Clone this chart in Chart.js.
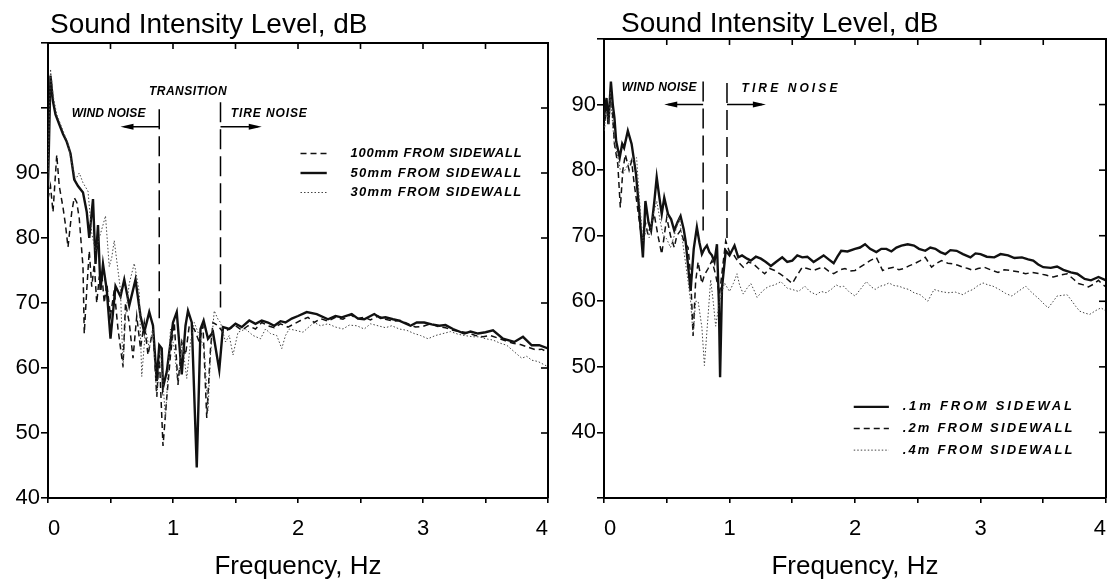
<!DOCTYPE html>
<html>
<head>
<meta charset="utf-8">
<script src="https://cdn.jsdelivr.net/npm/chart.js@4.4.0/dist/chart.umd.min.js"></script>
<style>
  html, body { margin: 0; padding: 0; background: #fff; overflow: hidden; }
  .panel { position: absolute; top: 0; height: 584px; }
  #left { left: 0; width: 556px; }
  #right { left: 556px; width: 551px; }
</style>
</head>
<body>
<div class="panel" id="left"><canvas id="chartLeft"></canvas></div>
<div class="panel" id="right"><canvas id="chartRight"></canvas></div>
<script>
// ---- data: [frequency Hz, level dB] ----
var left100mm = [[0,86],[0.02,88],[0.04,84],[0.07,92.8],[0.09,88],[0.12,84.7],[0.14,82],[0.16,78.6],[0.19,84],[0.21,86.2],[0.23,85.5],[0.25,83],[0.28,75.6],[0.29,65.3],[0.31,72],[0.33,78],[0.35,72.5],[0.37,76],[0.39,70],[0.41,74],[0.43,74.6],[0.45,70],[0.47,73],[0.50,68],[0.53,72],[0.56,66],[0.60,60.2],[0.62,70],[0.65,67],[0.68,61.5],[0.71,68],[0.74,63],[0.77,67],[0.80,62],[0.84,66],[0.87,55.6],[0.89,62],[0.92,48],[0.95,55.4],[0.98,62],[1.01,67],[1.04,57.4],[1.07,64],[1.10,62],[1.13,66.5],[1.17,66],[1.21,64],[1.24,66.5],[1.27,52.3],[1.30,63],[1.32,67],[1.36,66.5],[1.40,65.5],[1.45,66],[1.50,66.5],[1.55,65.8],[1.60,66.5],[1.66,66],[1.71,67],[1.76,66.5],[1.81,66.2],[1.86,66.8],[1.92,66.3],[1.97,66.8],[2.02,67.3],[2.08,67.8],[2.13,67],[2.18,67.6],[2.24,67.2],[2.30,67.8],[2.36,67.5],[2.42,68.2],[2.47,67.6],[2.53,67.8],[2.58,67.4],[2.64,68],[2.70,67.5],[2.76,67.2],[2.82,67.3],[2.88,66.8],[2.94,66.3],[3.00,66.4],[3.06,66.8],[3.12,66.4],[3.18,66.2],[3.24,65.8],[3.30,65.6],[3.36,65.4],[3.42,65],[3.48,64.8],[3.54,65],[3.60,64.6],[3.66,64.2],[3.72,63.8],[3.78,63.6],[3.84,63.2],[3.90,62.8],[3.95,62.9],[4.0,62.4]];
var left50mm = [[0,88],[0.02,105],[0.04,101],[0.06,99],[0.09,97.5],[0.12,96],[0.15,94.8],[0.18,93],[0.21,89],[0.24,88],[0.28,87],[0.31,84],[0.33,80],[0.36,86],[0.38,76],[0.40,82],[0.42,72],[0.44,76],[0.47,72],[0.50,64.5],[0.54,72.6],[0.58,71],[0.61,73.6],[0.65,69.6],[0.70,73.6],[0.74,68],[0.77,65.5],[0.81,68.6],[0.84,66.5],[0.87,58],[0.89,63.5],[0.91,63],[0.92,57],[0.95,59.4],[1.00,67],[1.03,68.6],[1.07,59],[1.10,66.5],[1.12,68.8],[1.15,67],[1.19,44.7],[1.22,66],[1.245,67.3],[1.28,64.5],[1.32,65.5],[1.37,59.7],[1.40,66.3],[1.45,66],[1.50,66.8],[1.55,66.3],[1.61,67.3],[1.66,66.8],[1.71,67.3],[1.76,67],[1.81,66.5],[1.86,67.2],[1.90,67],[1.95,67.6],[2.0,68],[2.07,68.6],[2.15,68.3],[2.24,67.5],[2.30,68],[2.35,67.8],[2.43,68.3],[2.48,67.6],[2.53,67.5],[2.61,68.3],[2.66,67.7],[2.70,67.8],[2.76,67.5],[2.81,67.3],[2.90,66.5],[2.95,67],[3.01,67],[3.07,66.7],[3.13,66.5],[3.18,66.6],[3.24,66],[3.33,65.3],[3.38,65.6],[3.44,65.3],[3.50,65.5],[3.56,65.8],[3.64,64.5],[3.73,64],[3.80,64.8],[3.87,63.5],[3.93,63.5],[4.0,63]];
var left30mm = [[0,90],[0.02,106],[0.04,102],[0.07,99],[0.10,97.5],[0.13,96],[0.16,94.5],[0.19,91.5],[0.22,89],[0.25,90],[0.28,88.5],[0.32,87.2],[0.35,80.7],[0.38,78],[0.41,80],[0.44,82],[0.46,83.4],[0.49,75.6],[0.51,77],[0.53,79.6],[0.56,75],[0.58,72],[0.60,60],[0.62,68],[0.65,73],[0.69,76.1],[0.71,74],[0.73,71.6],[0.75,58.7],[0.78,66],[0.81,63],[0.84,66],[0.87,55.4],[0.90,63],[0.94,52.3],[0.98,66],[1.01,63],[1.04,57.4],[1.07,64.5],[1.11,58.4],[1.14,64],[1.17,67],[1.21,65],[1.25,63],[1.28,53.4],[1.30,62],[1.33,68.8],[1.36,67.5],[1.38,67],[1.42,64],[1.45,65],[1.48,62],[1.52,65.5],[1.58,66],[1.64,65],[1.70,64.5],[1.74,66],[1.78,65.3],[1.83,65],[1.87,63],[1.90,65],[1.93,66],[1.98,65.8],[2.04,65.5],[2.08,66.2],[2.13,67],[2.18,66.5],[2.24,66.8],[2.30,66.3],[2.36,66],[2.41,66.6],[2.47,66.5],[2.53,66],[2.58,66.8],[2.64,66.5],[2.70,66.2],[2.75,66.5],[2.81,66],[2.87,65.8],[2.93,65.3],[2.98,65],[3.04,64.5],[3.10,65],[3.16,65.3],[3.22,65.6],[3.28,65.2],[3.33,65],[3.40,64.8],[3.45,64.8],[3.50,64.5],[3.56,64.3],[3.62,63.8],[3.67,63.5],[3.73,62.5],[3.79,61.5],[3.83,61.8],[3.87,61.2],[3.92,61],[3.96,60.6],[4.0,60.2]];

var right01m = [[0,88],[0.02,91],[0.035,87],[0.055,93.5],[0.07,90],[0.083,88],[0.097,84.4],[0.125,81.9],[0.145,84],[0.16,83.4],[0.19,86],[0.22,84],[0.255,79.4],[0.28,74],[0.31,66.7],[0.33,75.3],[0.355,72],[0.375,70.8],[0.40,75],[0.42,78.9],[0.44,76],[0.46,73.3],[0.48,75.8],[0.51,73.3],[0.535,72.5],[0.56,70.8],[0.585,72],[0.61,73],[0.635,71],[0.65,69.2],[0.69,61.6],[0.715,68],[0.74,71.3],[0.76,69],[0.78,67.2],[0.80,68],[0.82,68.5],[0.84,67.5],[0.86,67],[0.88,66],[0.90,68.7],[0.915,60],[0.925,48.4],[0.94,62],[0.97,67.7],[1.0,67],[1.04,68.5],[1.07,66.7],[1.1,67],[1.14,66.5],[1.17,66.2],[1.21,66.8],[1.25,66.5],[1.29,66],[1.33,65.4],[1.37,66],[1.42,66.7],[1.46,66],[1.5,66.2],[1.54,67],[1.58,66.7],[1.62,66.8],[1.67,66],[1.71,66.5],[1.75,67],[1.79,66.4],[1.83,65.8],[1.86,66.8],[1.89,67.7],[1.94,67.6],[2.0,68],[2.04,68.2],[2.08,68.7],[2.12,68],[2.17,67.5],[2.21,68],[2.25,68],[2.29,67.6],[2.33,68.2],[2.37,68.5],[2.42,68.7],[2.47,68.5],[2.51,68],[2.56,67.7],[2.60,68.2],[2.64,68],[2.68,67.5],[2.72,67.2],[2.76,67.8],[2.81,67.7],[2.86,67.2],[2.92,66.7],[2.96,67.3],[3.0,67.2],[3.05,66.8],[3.11,66.7],[3.16,67.2],[3.22,67],[3.27,66.6],[3.33,66.7],[3.38,66.4],[3.42,66.2],[3.46,65.6],[3.5,65.2],[3.56,65.1],[3.61,65.3],[3.66,64.8],[3.72,64.4],[3.77,64.2],[3.83,63.4],[3.88,63.2],[3.94,63.7],[4.0,63.2]];
var right02m = [[0,86],[0.02,90],[0.04,88],[0.055,93],[0.07,88],[0.083,84],[0.11,80.9],[0.13,74.3],[0.15,80],[0.17,82.4],[0.2,80],[0.22,81.4],[0.24,78],[0.26,75.3],[0.29,71],[0.31,69.2],[0.33,72],[0.35,70.2],[0.38,72],[0.40,73.3],[0.43,70],[0.46,67.2],[0.5,72.8],[0.53,70],[0.56,68.2],[0.58,70],[0.61,70.8],[0.64,69],[0.67,68.2],[0.69,64],[0.71,54.7],[0.73,63],[0.75,66],[0.78,62.7],[0.80,64],[0.83,65],[0.86,66.2],[0.89,64],[0.92,61],[0.95,66],[0.97,69.2],[1.0,67.5],[1.03,67.2],[1.07,66],[1.11,65.2],[1.15,66],[1.19,65.7],[1.23,65],[1.28,64.2],[1.32,65],[1.36,64.7],[1.40,64.2],[1.44,63.7],[1.5,62.7],[1.54,64],[1.58,65.2],[1.62,65],[1.67,64.7],[1.71,65],[1.75,65.2],[1.79,64.6],[1.83,64.2],[1.88,64.8],[1.92,65],[1.96,64.6],[2.0,64.7],[2.04,65.2],[2.08,65.7],[2.12,66.2],[2.17,66.7],[2.22,64.7],[2.26,65],[2.31,65.2],[2.35,64.8],[2.39,65],[2.43,65.4],[2.47,65.7],[2.52,66.2],[2.56,66.7],[2.61,65.2],[2.65,65.8],[2.69,66.2],[2.74,65.8],[2.78,65.7],[2.82,65.5],[2.86,65.2],[2.90,65],[2.94,64.7],[2.98,65],[3.03,65.2],[3.08,64.8],[3.14,64.4],[3.19,64.8],[3.24,64.7],[3.30,64.5],[3.36,64.2],[3.41,64.4],[3.47,64.2],[3.52,64],[3.58,63.7],[3.64,64],[3.69,64.2],[3.74,63.4],[3.78,62.7],[3.82,62.5],[3.86,62.2],[3.9,62.6],[3.94,63.2],[3.97,62.6],[4.0,62.2]];
var right04m = [[0,86],[0.02,89],[0.04,87],[0.05,92],[0.065,88],[0.08,84.4],[0.11,82],[0.13,80],[0.15,79.4],[0.18,80.5],[0.21,81.4],[0.26,81.9],[0.28,76],[0.31,69.2],[0.34,71],[0.36,69.7],[0.39,73],[0.42,75.3],[0.45,72],[0.47,70.2],[0.5,69.5],[0.53,68.2],[0.56,70],[0.6,72.8],[0.62,70],[0.64,67.2],[0.67,63],[0.69,60],[0.71,54.7],[0.73,60],[0.75,60],[0.78,56],[0.80,50.2],[0.83,58],[0.85,63.3],[0.87,60],[0.89,56.2],[0.92,60],[0.96,62.8],[1.0,61.5],[1.03,62.7],[1.06,64.2],[1.08,62.5],[1.11,61.1],[1.14,62],[1.17,62.7],[1.2,61.5],[1.22,60.6],[1.26,61.5],[1.29,62],[1.32,62.3],[1.36,62.5],[1.41,63],[1.46,62],[1.5,61.8],[1.55,61.5],[1.6,62.3],[1.64,61.5],[1.69,61],[1.73,61.5],[1.77,61.3],[1.81,61.8],[1.85,62.5],[1.88,62.2],[1.91,62.3],[1.95,61.5],[2.0,60.8],[2.05,62],[2.09,63],[2.13,62.2],[2.16,61.8],[2.2,62.3],[2.24,62.5],[2.27,62.8],[2.31,62.4],[2.35,62.3],[2.39,62],[2.43,61.8],[2.47,61.3],[2.52,61],[2.58,60],[2.63,61.8],[2.68,61.5],[2.74,61.3],[2.8,61.4],[2.86,61],[2.9,61.5],[2.94,61.8],[2.98,62.4],[3.02,62.8],[3.06,62.5],[3.1,62.3],[3.15,61.8],[3.2,61.2],[3.25,60.8],[3.3,61.5],[3.36,62.3],[3.4,61.5],[3.44,60.8],[3.47,60.3],[3.51,59.5],[3.54,59],[3.58,60],[3.61,60.8],[3.65,60.9],[3.69,61],[3.73,60],[3.76,59.2],[3.79,58.5],[3.83,58.2],[3.87,58],[3.92,58.6],[3.96,59],[4.0,58.5]];

// labels and axis ranges
var leftLegend = ['100mm FROM SIDEWALL', '50mm FROM SIDEWALL', '30mm FROM SIDEWALL'];
var rightLegend = ['.1m FROM SIDEWAL', '.2m FROM SIDEWALL', '.4m FROM SIDEWALL'];
var leftYRange = [40, 110];
var rightYRange = [30, 100];
var freqRange = [0, 4];

// boundaries between wind noise / transition / tire noise (Hz)
var leftBoundaries = [0.89, 1.38];
var rightBoundaries = [0.79, 0.98];

var chartTitle = 'Sound Intensity Level, dB';
var xTitle = 'Frequency, Hz';

Chart.defaults.font.family = '"Liberation Sans", Arial, Helvetica, sans-serif';
Chart.defaults.color = '#000';

function toXY(points) {
    return points.map(function(p) { return { x: p[0], y: p[1] }; });
}

// line styles: solid, dashed, dotted
var styles = {
    solid:  { borderColor: '#111', borderWidth: 2.4, borderDash: [] },
    dashed: { borderColor: '#111', borderWidth: 1.5, borderDash: [6, 4] },
    dotted: { borderColor: '#444', borderWidth: 1, borderDash: [1.5, 2] }
};

function handText(ctx, text, x, y, width, size) {
    ctx.font = 'bold italic ' + size + 'px "Liberation Sans", Arial, sans-serif';
    ctx.letterSpacing = '0px';
    var w = ctx.measureText(text).width;
    if (width) {
        ctx.letterSpacing = ((width - w) / text.length).toFixed(2) + 'px';
    }
    ctx.fillText(text, x, y);
    ctx.letterSpacing = '0px';
}

// draws frame, inward ticks, boundaries, arrows, notes, legend and title
var panelDecor = {
    id: 'panelDecor',
    afterDatasetsDraw: function(chart, args, o) {
        var ctx = chart.ctx, a = chart.chartArea;
        var xs = chart.scales.x, ys = chart.scales.y;
        function px(f) { return xs.getPixelForValue(f); }
        function py(v) { return ys.getPixelForValue(v); }
        ctx.save();
        ctx.strokeStyle = '#000';
        ctx.fillStyle = '#000';

        // top and right frame
        ctx.setLineDash([]);
        ctx.lineWidth = 2;
        ctx.beginPath();
        ctx.moveTo(a.left, a.top);
        ctx.lineTo(a.right, a.top);
        ctx.lineTo(a.right, a.bottom);
        ctx.stroke();

        ctx.lineWidth = 1.6;
        xs.ticks.forEach(function(t) {
            var x = px(t.value);
            if (x > a.left + 2 && x < a.right - 2) {
                ctx.beginPath(); ctx.moveTo(x, a.top); ctx.lineTo(x, a.top + 6); ctx.stroke();
            }
        });
        ys.ticks.forEach(function(t) {
            var y = py(t.value);
            if (y > a.top + 2 && y < a.bottom - 2) {
                ctx.beginPath(); ctx.moveTo(a.right - 7, y); ctx.lineTo(a.right, y); ctx.stroke();
            }
        });

        // boundary lines
        ctx.lineWidth = 1.5;
        ctx.setLineDash([20, 7]);
        o.lines.forEach(function(l) {
            ctx.beginPath();
            ctx.moveTo(px(l.f), py(l.top));
            ctx.lineTo(px(l.f), py(l.bottom));
            ctx.stroke();
        });
        ctx.setLineDash([]);

        // arrows
        o.arrows.forEach(function(ar) {
            var x0 = px(ar.from), x1 = px(ar.to), y = py(ar.y);
            var dir = x1 < x0 ? -1 : 1;
            ctx.lineWidth = 1.5;
            ctx.beginPath(); ctx.moveTo(x0, y); ctx.lineTo(x1 - dir * 4, y); ctx.stroke();
            ctx.beginPath();
            ctx.moveTo(x1, y);
            ctx.lineTo(x1 - dir * 13, y - 3);
            ctx.lineTo(x1 - dir * 13, y + 3);
            ctx.closePath();
            ctx.fill();
        });

        // hand lettered notes
        ctx.textBaseline = 'middle';
        ctx.textAlign = 'left';
        o.notes.forEach(function(n) {
            handText(ctx, n.text, px(n.f) - n.w / 2, py(n.y), n.w, 12);
        });

        // legend
        var kinds = o.legendOrder;
        o.legend.rows.forEach(function(v, i) {
            var st = styles[kinds[i]];
            var y = py(v);
            ctx.strokeStyle = st.borderColor;
            ctx.lineWidth = st.borderWidth;
            ctx.setLineDash(st.borderDash);
            ctx.beginPath();
            ctx.moveTo(px(o.legend.lineFrom), y);
            ctx.lineTo(px(o.legend.lineTo), y);
            ctx.stroke();
            ctx.setLineDash([]);
            handText(ctx, o.legend.texts[i], px(o.legend.textAt), y, o.legend.textWidth, 13);
        });
        ctx.restore();
    },
    afterDraw: function(chart, args, o) {
        var ctx = chart.ctx;
        ctx.save();
        ctx.fillStyle = '#000';
        ctx.font = '28px "Liberation Sans", Arial, sans-serif';
        ctx.textBaseline = 'alphabetic';
        ctx.textAlign = 'left';
        ctx.fillText(chartTitle, chart.chartArea.left + o.titleDx, o.titleY);
        ctx.restore();
    }
};

function makePanel(canvasId, series, yRange, topPad, rightPad, decor) {
    var ctx = document.getElementById(canvasId).getContext('2d');
    return new Chart(ctx, {
        type: 'line',
        data: {
            datasets: series.map(function(s) {
                var st = styles[s.kind];
                return {
                    label: s.label,
                    data: toXY(s.points),
                    borderColor: st.borderColor,
                    borderWidth: st.borderWidth,
                    borderDash: st.borderDash,
                    pointRadius: 0,
                    tension: 0,
                    fill: false
                };
            })
        },
        options: {
            responsive: true,
            maintainAspectRatio: false,
            animation: false,
            layout: { padding: { top: topPad, right: rightPad, bottom: 0, left: 0 } },
            plugins: {
                legend: { display: false },
                tooltip: { enabled: false },
                panelDecor: decor
            },
            scales: {
                x: {
                    type: 'linear',
                    min: freqRange[0],
                    max: freqRange[1],
                    afterFit: function(s) {
                        s.height = 86;
                        s.paddingLeft = 0;
                        s.paddingRight = 0;
                    },
                    border: { display: true, color: '#000', width: 2 },
                    grid: { drawOnChartArea: false, drawTicks: true, tickLength: 5, color: '#000', lineWidth: 1.6 },
                    ticks: {
                        stepSize: 0.5,
                        autoSkip: false,
                        maxRotation: 0,
                        align: 'inner',
                        padding: 13,
                        font: { size: 22 },
                        callback: function(v) { return Number.isInteger(v) ? String(v) : ''; }
                    },
                    title: { display: true, text: xTitle, font: { size: 26 }, padding: { top: 0, bottom: 2 } }
                },
                y: {
                    min: yRange[0],
                    max: yRange[1],
                    afterFit: function(s) { s.width = 48; },
                    border: { display: true, color: '#000', width: 2 },
                    grid: { drawOnChartArea: false, drawTicks: true, tickLength: 7, color: '#000', lineWidth: 1.6 },
                    ticks: {
                        stepSize: 10,
                        padding: 1,
                        font: { size: 22 },
                        callback: function(v) { return (v >= 40 && v <= 90) ? String(v) : ''; }
                    }
                }
            }
        },
        plugins: [panelDecor]
    });
}

// left panel: 100 / 50 / 30 mm
makePanel('chartLeft', [
    { label: leftLegend[2], kind: 'dotted', points: left30mm },
    { label: leftLegend[0], kind: 'dashed', points: left100mm },
    { label: leftLegend[1], kind: 'solid', points: left50mm }
], leftYRange, 43, 8, {
    titleDx: 2, titleY: 33,
    lines: [
        { f: leftBoundaries[0], top: 99.8, bottom: 67 },
        { f: leftBoundaries[1], top: 100.9, bottom: 69.3 }
    ],
    arrows: [
        { from: leftBoundaries[0], to: 0.58, y: 97.1 },
        { from: leftBoundaries[1], to: 1.71, y: 97.1 }
    ],
    notes: [
        { text: 'WIND NOISE', f: 0.485, y: 99.1, w: 74 },
        { text: 'TRANSITION', f: 1.12, y: 102.5, w: 78 },
        { text: 'TIRE NOISE', f: 1.77, y: 99.1, w: 77 }
    ],
    legendOrder: ['dashed', 'solid', 'dotted'],
    legend: { rows: [93, 90, 87], lineFrom: 2.02, lineTo: 2.23, textAt: 2.42, textWidth: 172, texts: leftLegend }
});

// right panel: .1 / .2 / .4 m
makePanel('chartRight', [
    { label: rightLegend[2], kind: 'dotted', points: right04m },
    { label: rightLegend[1], kind: 'dashed', points: right02m },
    { label: rightLegend[0], kind: 'solid', points: right01m }
], rightYRange, 39, 1, {
    titleDx: 17, titleY: 32,
    lines: [
        { f: rightBoundaries[0], top: 93.5, bottom: 70.8 },
        { f: rightBoundaries[1], top: 93.3, bottom: 68.7 }
    ],
    arrows: [
        { from: rightBoundaries[0], to: 0.48, y: 90 },
        { from: rightBoundaries[1], to: 1.29, y: 90 }
    ],
    notes: [
        { text: 'WIND NOISE', f: 0.44, y: 92.6, w: 75 },
        { text: 'TIRE NOISE', f: 1.49, y: 92.4, w: 99 }
    ],
    legendOrder: ['solid', 'dashed', 'dotted'],
    legend: { rows: [43.9, 40.6, 37.3], lineFrom: 1.99, lineTo: 2.27, textAt: 2.38, textWidth: 172, texts: rightLegend }
});
</script>
</body>
</html>
